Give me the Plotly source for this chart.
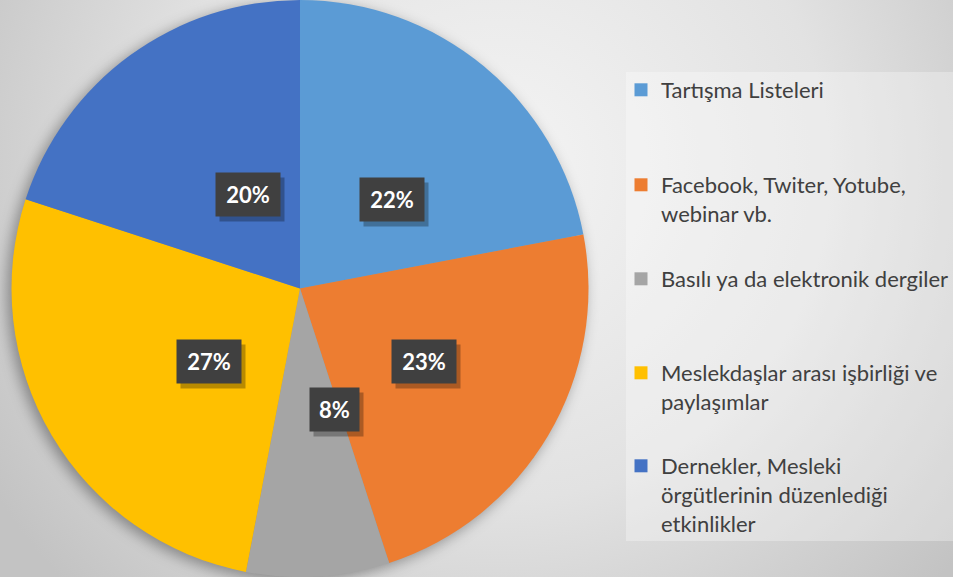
import base64, math
import plotly.graph_objects as go

labels = [
    "Tartışma Listeleri",
    "Facebook, Twiter, Yotube,<br>webinar vb.",
    "Basılı ya da elektronik dergiler",
    "Meslekdaşlar arası işbirliği ve<br>paylaşımlar",
    "Dernekler, Mesleki<br>örgütlerinin düzenlediği<br>etkinlikler",
]
values = [22, 23, 8, 27, 20]
colors = ["#5B9BD5", "#ED7D31", "#A5A5A5", "#FFC000", "#4472C4"]

W, H = 953, 577
PIE_X1 = 600 / W
FONT = "Lato"

# background gradient + pie shadow (decoration)
svg = f"""<svg xmlns='http://www.w3.org/2000/svg' width='{W}' height='{H}' viewBox='0 0 {W} {H}' preserveAspectRatio='none'>
<defs>
<radialGradient id='g' cx='500' cy='170' r='600' gradientUnits='userSpaceOnUse'>
<stop offset='0' stop-color='#F4F4F4'/>
<stop offset='0.55' stop-color='#E2E2E2'/>
<stop offset='1' stop-color='#C3C3C3'/>
</radialGradient>
<filter id='b' x='-20%' y='-20%' width='140%' height='140%'><feGaussianBlur stdDeviation='7'/></filter>
</defs>
<rect width='{W}' height='{H}' fill='url(#g)'/>
<rect x='626' y='72' width='{W - 626}' height='469' fill='rgba(255,255,255,0.3)'/>
<circle cx='296' cy='292' r='289' fill='rgba(0,0,0,0.35)' filter='url(#b)'/>
</svg>"""
bg_uri = "data:image/svg+xml;base64," + base64.b64encode(svg.encode()).decode()

fig = go.Figure()
fig.add_trace(go.Pie(
    labels=labels, values=values, sort=False, direction="clockwise", rotation=0,
    marker=dict(colors=colors, line=dict(width=0)),
    textinfo="none", showlegend=False,
    domain=dict(x=[0, PIE_X1], y=[0, 1]),
    hovertemplate="%{label}: %{percent}<extra></extra>",
))

# legend entries (one legend per entry for Excel-like spacing)
leg_top = [90, 185, 279, 373, 466]
layout_legends = {}
for i, (lab, col) in enumerate(zip(labels, colors)):
    key = "legend" if i == 0 else f"legend{i+1}"
    fig.add_trace(go.Scatter(
        x=[None], y=[None], mode="markers", name=lab,
        marker=dict(symbol="square", size=13, color=col),
        legend=key, showlegend=True, hoverinfo="skip",
    ))
    layout_legends[key] = dict(
        x=621 / W, y=1 - (leg_top[i] - 21) / H, xanchor="left", yanchor="top",
        bgcolor="rgba(0,0,0,0)", valign="top", itemclick=False, itemdoubleclick=False,
        font=dict(family=FONT, size=22, color="#404040"), itemwidth=30,
    )

# percentage labels
total = sum(values)
R = min(PIE_X1 * W, H) / 2
cx, cy = PIE_X1 * W / 2, H / 2
annotations = []
cum = 0
for v in values:
    mid = (cum + v / 2) / total * 2 * math.pi
    cum += v
    px = cx + 0.5 * R * math.sin(mid)
    py = cy + 0.5 * R * math.cos(mid)
    s = f"{round(v / total * 100)}%"
    bw = 15 * len(s) + 3
    bh = 27
    pos = dict(x=px / W, y=py / H, xref="paper", yref="paper", showarrow=False)
    annotations.append(dict(pos, text=" ", width=bw + 16, height=bh + 16, borderpad=0,
                            bgcolor="rgba(0,0,0,0.28)", xshift=4, yshift=-5,
                            font=dict(family=FONT, size=10, color="rgba(0,0,0,0)")))
    annotations.append(dict(pos, text=f"<b>{s}</b>", width=bw, height=bh, borderpad=8,
                            bgcolor="#404040",
                            font=dict(family=FONT, size=22, color="white")))

fig.update_layout(
    width=W, height=H, margin=dict(l=0, r=0, t=0, b=0, autoexpand=False),
    paper_bgcolor="#E6E6E6", plot_bgcolor="rgba(0,0,0,0)",
    xaxis=dict(visible=False, domain=[PIE_X1, 1]), yaxis=dict(visible=False),
    images=[dict(source=bg_uri, xref="paper", yref="paper", x=0, y=1, sizex=1, sizey=1,
                 xanchor="left", yanchor="top", sizing="stretch", layer="below")],
    annotations=annotations,
    **layout_legends,
)

fig.write_html("out.html", config={"displayModeBar": False},
               post_script="document.body.style.margin='0';document.body.style.overflow='hidden';")
